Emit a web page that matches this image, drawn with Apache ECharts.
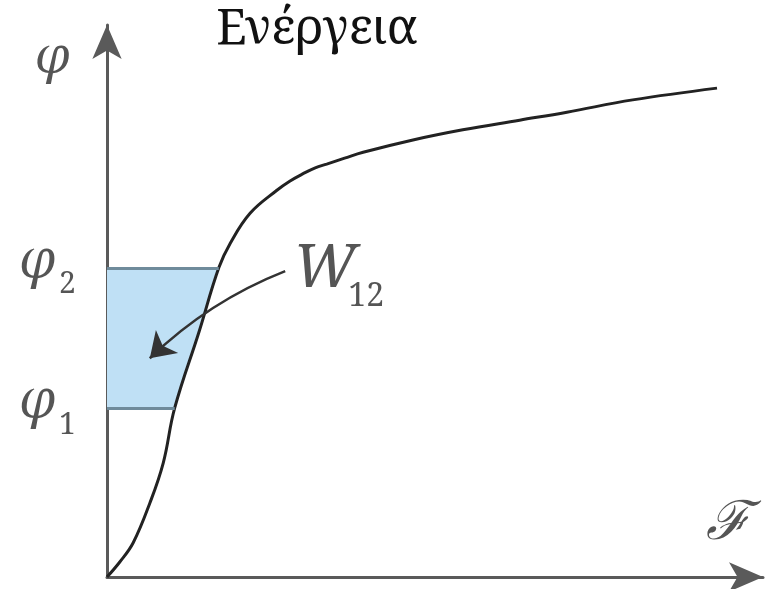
<!DOCTYPE html>
<html>
<head>
<meta charset="utf-8">
<script src="https://cdn.jsdelivr.net/npm/echarts@6/dist/echarts.min.js"></script>
<style>
  html, body { margin: 0; padding: 0; background: #fff; }
  #chart { width: 766px; height: 589px; }
</style>
</head>
<body>
<div id="chart"></div>
<script>
// magnetisation curve  φ(ℱ)
const curveF   = [0, 2.0, 4.1, 6.7, 8.8, 10.6, 14.4, 17.5, 19.3, 22.4, 26.6, 28.6, 30.7, 32.6, 34.4, 37.2, 40.1, 47.9, 55.7, 64.6, 72.0, 82.3, 95.5]
const curvePhi = [0, 2.8, 6.4, 13.8, 21.3, 31.6, 45.8, 57.8, 62.4, 68.0, 72.3, 74.0, 75.4, 76.5, 77.2, 78.3, 79.4, 81.7, 83.6, 85.4, 86.9, 89.2, 91.4]

// the two flux levels and where the curve crosses them
const phiLevels = [31.6, 57.8]
const phiLevelNames = ['1', '2']
const levelF = [10.6, 17.5]

// annotation arrow W12 (start -> end)
const arrowF = [27.9, 6.7]
const arrowPhi = [57.2, 40.9]
const wLabelPos = [29.0, 57.4]

const xMax = 102.7
const yMax = 103.2

const curveData = curveF.map((f, i) => [f, curvePhi[i]])

// shaded area between φ1 and φ2, left of the curve
const shadeData = [[0, phiLevels[0]]]
  .concat(curveData.filter(p => p[1] >= phiLevels[0] && p[1] <= phiLevels[1]))
  .concat([[0, phiLevels[1]]])

const chart = echarts.init(document.getElementById('chart'))

const labelColor = '#555'

const option = {
  backgroundColor: '#fff',
  animation: false,
  grid: { left: 107, right: 3, top: 25, bottom: 12 },
  xAxis: {
    type: 'value',
    min: 0,
    max: xMax,
    axisLine: {
      show: true,
      symbol: ['none', 'arrow'],
      symbolSize: [22, 34],
      lineStyle: { color: '#5a5a5a', width: 3 }
    },
    axisTick: { show: false },
    axisLabel: { show: false },
    splitLine: { show: false }
  },
  yAxis: {
    type: 'value',
    min: 0,
    max: yMax,
    axisLine: {
      show: true,
      symbol: ['none', 'arrow'],
      symbolSize: [22, 34],
      lineStyle: { color: '#5a5a5a', width: 3 }
    },
    axisTick: { show: false },
    axisLabel: { show: false },
    splitLine: { show: false }
  },
  series: [
    {
      // shaded energy area
      type: 'custom',
      data: shadeData,
      z: 1,
      renderItem: function (params, api) {
        if (params.dataIndex !== 0) return
        const pts = shadeData.map(p => api.coord(p))
        return {
          type: 'polygon',
          shape: { points: pts },
          style: { fill: '#bfe0f5' }
        }
      },
      markLine: {
        silent: true,
        symbol: ['none', 'none'],
        label: { show: false },
        lineStyle: { color: '#6f8b9b', width: 3, type: 'solid' },
        data: phiLevels.map((phi, i) => [{ coord: [0, phi] }, { coord: [levelF[i], phi] }])
      }
    },
    {
      type: 'line',
      data: curveData,
      smooth: 0.4,
      showSymbol: false,
      z: 3,
      lineStyle: { color: '#222', width: 3 }
    },
    {
      type: 'lines',
      coordinateSystem: 'cartesian2d',
      z: 4,
      symbol: ['none', 'arrow'],
      symbolSize: [13, 24],
      lineStyle: { color: '#333', width: 2.5, curveness: -0.1, opacity: 1 },
      data: [{ coords: [[arrowF[0], arrowPhi[0]], [arrowF[1], arrowPhi[1]]] }]
    }
  ]
}

chart.setOption(option)

// text is placed with graphic elements, positioned through the axes
function px(v) {
  return chart.convertToPixel({ gridIndex: 0 }, v)
}

function txt(text, x, y, font, color, align) {
  return {
    type: 'text',
    x: x,
    y: y,
    z: 10,
    style: { text: text, font: font, fill: color, align: align || 'center', verticalAlign: 'middle' }
  }
}

const graphics = []
const yEnd = px([0, yMax])
const xEnd = px([xMax, 0])

graphics.push(txt('Ενέργεια', 317, 30, '49px Noto Serif', '#111'))
graphics.push(txt('φ', yEnd[0] - 54, yEnd[1] + 34, 'italic 50px Noto Serif', labelColor))
graphics.push(txt('ℱ', xEnd[0] - 35, xEnd[1] - 52, 'italic 54px DejaVu Serif', labelColor))

phiLevels.forEach(function (phi, i) {
  const p = px([0, phi])
  graphics.push(txt('φ', p[0] - 69, p[1] - 6, 'italic 52px Noto Serif', labelColor))
  graphics.push(txt(phiLevelNames[i], p[0] - 48, p[1] + 17, '30px Noto Serif', labelColor, 'left'))
})

const w = px(wLabelPos)
graphics.push(txt('W', w[0] + 1, w[1], 'italic 60px Noto Serif', labelColor, 'left'))
graphics.push(txt('12', w[0] + 56, w[1] + 27, '32px Noto Serif', labelColor, 'left'))

chart.setOption({ graphic: graphics })
</script>
</body>
</html>
